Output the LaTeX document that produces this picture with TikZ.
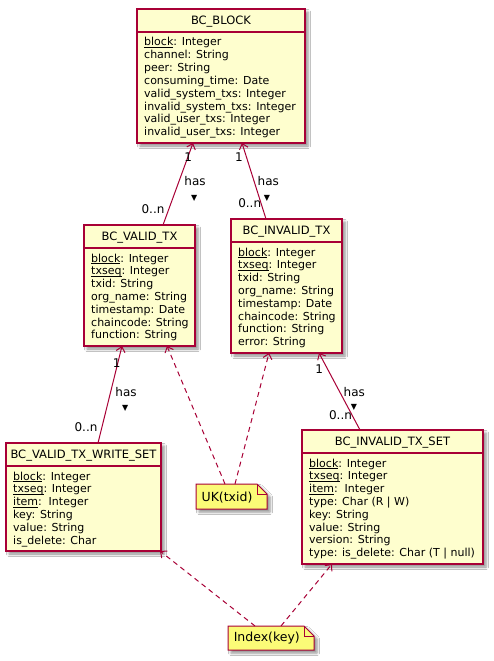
\documentclass[tikz,border=0pt]{standalone}
\usepackage{fontspec}
\setmainfont{DejaVu Sans}
\usetikzlibrary{arrows.meta,calc,shadows.blur}
\definecolor{pborder}{HTML}{A80036}
\definecolor{pfill}{HTML}{FEFECE}
\definecolor{pnote}{HTML}{FBFB77}
\newcommand\ulx[1]{\setbox0\hbox{#1}\rlap{\rule[-1.5pt]{\wd0}{0.6pt}}\box0}
\tikzset{
  clsbox/.style={draw=pborder, fill=pfill, line width=1.3pt, inner sep=0pt, outer sep=0pt, anchor=north west,
    blur shadow={shadow xshift=3pt, shadow yshift=-3pt, shadow blur radius=2.5pt, shadow opacity=45}},
  clsline/.style={draw=pborder, line width=1.3pt},
  ttl/.style={font=\fontsize{11.5pt}{14pt}\selectfont, inner sep=0pt, anchor=base},
  attr/.style={font=\fontsize{11pt}{13pt}\selectfont, inner sep=0pt, anchor=base west},
  lbl/.style={font=\fontsize{12pt}{14pt}\selectfont, inner sep=0pt},
  tri/.style={font=\fontsize{8pt}{10pt}\selectfont, inner sep=0pt},
  rel/.style={draw=pborder, line width=1pt, -{Straight Barb[length=5pt,width=9pt]}},
  dep/.style={rel, dash pattern=on 5pt off 4pt},
  notebox/.style={inner sep=0pt, outer sep=0pt, anchor=north west},
  notepath/.style={draw=pborder, fill=pnote, line width=1pt,
    blur shadow={shadow xshift=3pt, shadow yshift=-3pt, shadow blur radius=2.5pt, shadow opacity=45}},
  notefold/.style={draw=pborder, line width=1pt},
  notetxt/.style={font=\fontsize{12.5pt}{15pt}\selectfont, inner sep=0pt},
}
\begin{document}
\begin{tikzpicture}[x=1pt,y=-1pt]
\useasboundingbox[fill=white] (0,0) rectangle (493,661);

% ---------- BC_BLOCK ----------
\node[clsbox, minimum width=168pt, minimum height=134pt] (blk) at (137,9) {};
\node[ttl] (blkt) at ([yshift=-15.5pt]blk.north) {BC\_BLOCK};
\draw[clsline] ([yshift=-23pt]blk.north west) -- ([yshift=-23pt]blk.north east);
\foreach \t [count=\i from 0] in {{\ulx{block}: Integer},{channel: String},{peer: String},{consuming\_time: Date},{valid\_system\_txs: Integer},{invalid\_system\_txs: Integer},{valid\_user\_txs: Integer},{invalid\_user\_txs: Integer}}
  \node[attr] (blk-a\i) at ([shift={(7pt,-37pt-12.8pt*\i)}]blk.north west) {\t};

% ---------- BC_VALID_TX ----------
\node[clsbox, minimum width=111pt, minimum height=121pt] (vtx) at (84,225) {};
\node[ttl] (vtxt) at ([yshift=-15.5pt]vtx.north) {BC\_VALID\_TX};
\draw[clsline] ([yshift=-23pt]vtx.north west) -- ([yshift=-23pt]vtx.north east);
\foreach \t [count=\i from 0] in {{\ulx{block}: Integer},{\ulx{txseq}: Integer},{txid: String},{org\_name: String},{timestamp: Date},{chaincode: String},{function: String}}
  \node[attr] (vtx-a\i) at ([shift={(7pt,-37pt-12.8pt*\i)}]vtx.north west) {\t};

% ---------- BC_INVALID_TX ----------
\node[clsbox, minimum width=111pt, minimum height=134pt] (itx) at (231,219) {};
\node[ttl] (itxt) at ([yshift=-15.5pt]itx.north) {BC\_INVALID\_TX};
\draw[clsline] ([yshift=-23pt]itx.north west) -- ([yshift=-23pt]itx.north east);
\foreach \t [count=\i from 0] in {{\ulx{block}: Integer},{\ulx{txseq}: Integer},{txid: String},{org\_name: String},{timestamp: Date},{chaincode: String},{function: String},{error: String}}
  \node[attr] (itx-a\i) at ([shift={(7pt,-37pt-12.8pt*\i)}]itx.north west) {\t};

% ---------- BC_VALID_TX_WRITE_SET ----------
\node[clsbox, minimum width=155pt, minimum height=108pt] (ws) at (6,443) {};
\node[ttl] (wst) at ([yshift=-15.5pt]ws.north) {BC\_VALID\_TX\_WRITE\_SET};
\draw[clsline] ([yshift=-23pt]ws.north west) -- ([yshift=-23pt]ws.north east);
\foreach \t [count=\i from 0] in {{\ulx{block}: Integer},{\ulx{txseq}: Integer},{\ulx{item}:\ \ Integer},{key: String},{value: String},{is\_delete: Char}}
  \node[attr] (ws-a\i) at ([shift={(7pt,-37pt-12.8pt*\i)}]ws.north west) {\t};

% ---------- BC_INVALID_TX_SET ----------
\node[clsbox, minimum width=181pt, minimum height=134pt] (its) at (302,430) {};
\node[ttl] (itst) at ([yshift=-15.5pt]its.north) {BC\_INVALID\_TX\_SET};
\draw[clsline] ([yshift=-23pt]its.north west) -- ([yshift=-23pt]its.north east);
\foreach \t [count=\i from 0] in {{\ulx{block}: Integer},{\ulx{txseq}: Integer},{\ulx{item}:\ \ Integer},{type: Char (R | W)},{key: String},{value: String},{version: String},{type: is\_delete: Char (T | null)}}
  \node[attr] (its-a\i) at ([shift={(7pt,-37pt-12.8pt*\i)}]its.north west) {\t};

% ---------- Notes ----------
\node[notebox, minimum width=71pt, minimum height=25pt] (uk) at (196,484) {};
\path[notepath] (uk.north west) -- ([xshift=-10pt]uk.north east) -- ([yshift=-10pt]uk.north east) -- (uk.south east) -- (uk.south west) -- cycle;
\draw[notefold] ([xshift=-10pt]uk.north east) -- ([shift={(-10pt,-10pt)}]uk.north east) -- ([yshift=-10pt]uk.north east);
\node[notetxt] (ukt) at ([shift={(-4.5pt,-1pt)}]uk.center) {UK(txid)};

\node[notebox, minimum width=86pt, minimum height=24pt] (idx) at (228,626) {};
\path[notepath] (idx.north west) -- ([xshift=-10pt]idx.north east) -- ([yshift=-10pt]idx.north east) -- (idx.south east) -- (idx.south west) -- cycle;
\draw[notefold] ([xshift=-10pt]idx.north east) -- ([shift={(-10pt,-10pt)}]idx.north east) -- ([yshift=-10pt]idx.north east);
\node[notetxt] (idxt) at ([shift={(-4.2pt,-0.5pt)}]idx.center) {Index(key)};

% ---------- Relations ----------
\draw[rel] ([xshift=23.5pt]vtx.north) -- ([xshift=-28pt]blk.south);
\draw[rel] ([xshift=-20.5pt]itx.north) -- ([xshift=21pt]blk.south);
\draw[rel] ([xshift=14.5pt]ws.north) -- ([xshift=-17.5pt]vtx.south);
\draw[rel] ([xshift=-32.5pt]its.north) -- ([xshift=32.5pt]itx.south);

\draw[dep] ([xshift=-6.5pt]uk.north) -- ([xshift=27.5pt]vtx.south);
\draw[dep] ([xshift=3.5pt]uk.north) -- ([xshift=-17.5pt]itx.south);
\draw[dep] ([xshift=-16pt]idx.north) -- ([xshift=76.5pt]ws.south);
\draw[dep] ([xshift=10pt]idx.north) -- ([xshift=-60.5pt]its.south);

% ---------- Labels ----------
\node[lbl] (l1a) at (188.3,157.3) {1};
\node[lbl] (l1b) at (153,209.3) {0..n};
\node[lbl] (l1c) at (195,180.7) {has};
\node[tri] (l1d) at (194.3,198) {▼};

\node[lbl] (l2a) at (239,157.3) {1};
\node[lbl] (l2b) at (249.7,203.3) {0..n};
\node[lbl] (l2c) at (268.3,180.7) {has};
\node[tri] (l2d) at (267,198) {▼};

\node[lbl] (l3a) at (116.7,362.7) {1};
\node[lbl] (l3b) at (86,427.3) {0..n};
\node[lbl] (l3c) at (126,391.7) {has};
\node[tri] (l3d) at (125.3,408.3) {▼};

\node[lbl] (l4a) at (319.3,369.3) {1};
\node[lbl] (l4b) at (340.5,415) {0..n};
\node[lbl] (l4c) at (354.3,391.7) {has};
\node[tri] (l4d) at (354,407) {▼};
\end{tikzpicture}
\end{document}
